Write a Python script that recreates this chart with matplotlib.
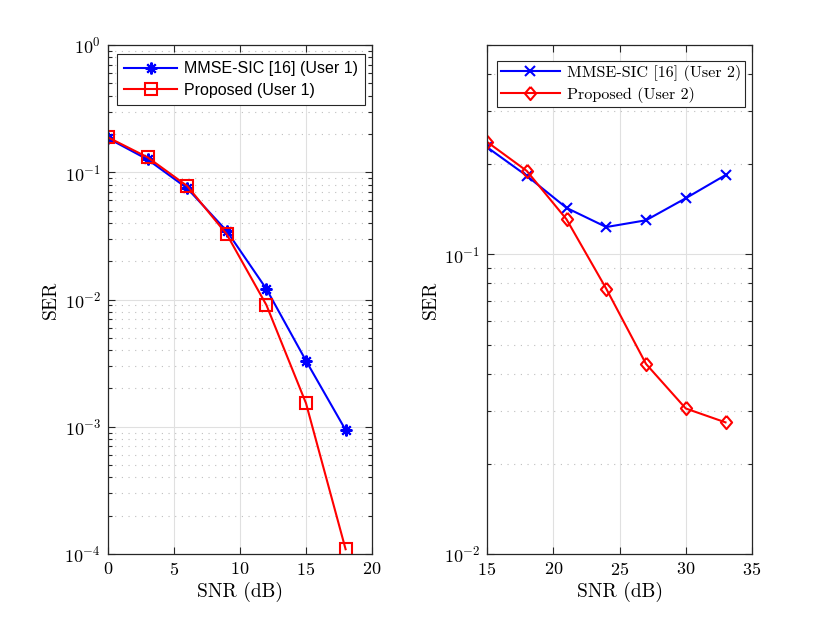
import matplotlib
matplotlib.use("Agg")
import matplotlib.pyplot as plt
from matplotlib.ticker import LogLocator, NullFormatter

plt.rcParams['mathtext.fontset'] = 'cm'
plt.rcParams['axes.formatter.use_mathtext'] = True
plt.rcParams['font.family'] = ['cmr10', 'DejaVu Serif']
plt.rcParams['axes.unicode_minus'] = False

# ---- data ----
snr1 = [0, 3, 6, 9, 12, 15, 18]
mmse_u1 = [0.185, 0.126, 0.0748, 0.0345, 0.0121, 0.0033, 0.000943]
prop_u1 = [0.188, 0.131, 0.078, 0.0325, 0.00905, 0.00153, 0.000109]

snr2 = [15, 18, 21, 24, 27, 30, 33]
mmse_u2 = [0.228, 0.183, 0.143, 0.1234, 0.130, 0.154, 0.184]
prop_u2 = [0.2375, 0.190, 0.131, 0.0768, 0.0431, 0.0306, 0.0275]

xticks1 = [0, 5, 10, 15, 20]
xticks2 = [15, 20, 25, 30, 35]

W, H = 830, 623
fig = plt.figure(figsize=(W / 100, H / 100), dpi=100)

edge = (0.15, 0.15, 0.15)
diamond = [(0, 1), (0.85, 0), (0, -1), (-0.85, 0), (0, 1)]

def style(ax, xticks, xlim, ylim):
    ax.set_yscale('log')
    ax.set_xlim(*xlim)
    ax.set_ylim(*ylim)
    ax.set_xticks(xticks)
    ax.yaxis.set_major_locator(LogLocator(base=10, numticks=10))
    ax.yaxis.set_minor_locator(LogLocator(base=10, subs=range(2, 10), numticks=100))
    ax.yaxis.set_minor_formatter(NullFormatter())
    ax.tick_params(which='both', direction='in', top=True, right=True,
                   colors=edge, labelcolor='black', labelsize=13, width=0.8)
    ax.tick_params(which='major', length=5, pad=5)
    ax.tick_params(which='minor', length=3)
    for s in ax.spines.values():
        s.set_color(edge)
        s.set_linewidth(0.9)
        s.set_zorder(5)
    ax.grid(True, which='major', color=(0.88, 0.88, 0.88), linewidth=0.8, linestyle='-')
    ax.grid(True, which='minor', axis='y', color=(0.75, 0.75, 0.75), linewidth=0.8,
            linestyle=(0, (1, 5)))
    ax.set_axisbelow(True)
    ax.set_xlabel('SNR (dB)', fontsize=14, labelpad=3)
    ax.set_ylabel('SER', fontsize=14, labelpad=3)

ax1 = fig.add_axes([108 / W, (H - 554) / H, 264 / W, 509 / H])
ax1.plot(snr1, mmse_u1, color='blue', lw=1.5, marker=(8, 2, 0), ms=8.5, mew=1.5,
         label='MMSE-SIC [16] (User 1)')
ax1.plot(snr1, prop_u1, color='red', lw=1.5, marker='s', ms=9, mew=1.5,
         mfc='none', label='Proposed (User 1)')
style(ax1, xticks1, (0, 20), (1e-4, 1))
leg1 = ax1.legend(loc='upper right', bbox_to_anchor=(0.9735, 0.982), fancybox=False,
                  framealpha=1, edgecolor=edge, handlelength=3.35,
                  prop={'family': ['Liberation Sans'], 'size': 11.5},
                  borderpad=0.45, labelspacing=0.4, handletextpad=0.4,
                  borderaxespad=0)
leg1.get_frame().set_linewidth(0.8)

ax2 = fig.add_axes([487 / W, (H - 554) / H, 265 / W, 509 / H])
ax2.plot(snr2, mmse_u2, color='blue', lw=1.5, marker='x', ms=7, mew=1.5,
         label='MMSE-SIC [16] (User 2)')
ax2.plot(snr2, prop_u2, color='red', lw=1.5, marker=diamond, ms=9.5, mew=1.5,
         mfc='none', label='Proposed (User 2)')
style(ax2, xticks2, (15, 35), (1e-2, 0.5))
leg2 = ax2.legend(loc='upper right', bbox_to_anchor=(0.9736, 0.9686), fancybox=False,
                  framealpha=1, edgecolor=edge, handlelength=3.7,
                  prop={'family': ['cmr10'], 'size': 11.6},
                  borderpad=0.25, labelspacing=0.35, handletextpad=0.4,
                  borderaxespad=0)
leg2.get_frame().set_linewidth(0.8)

fig.savefig('out.png', dpi=100)
